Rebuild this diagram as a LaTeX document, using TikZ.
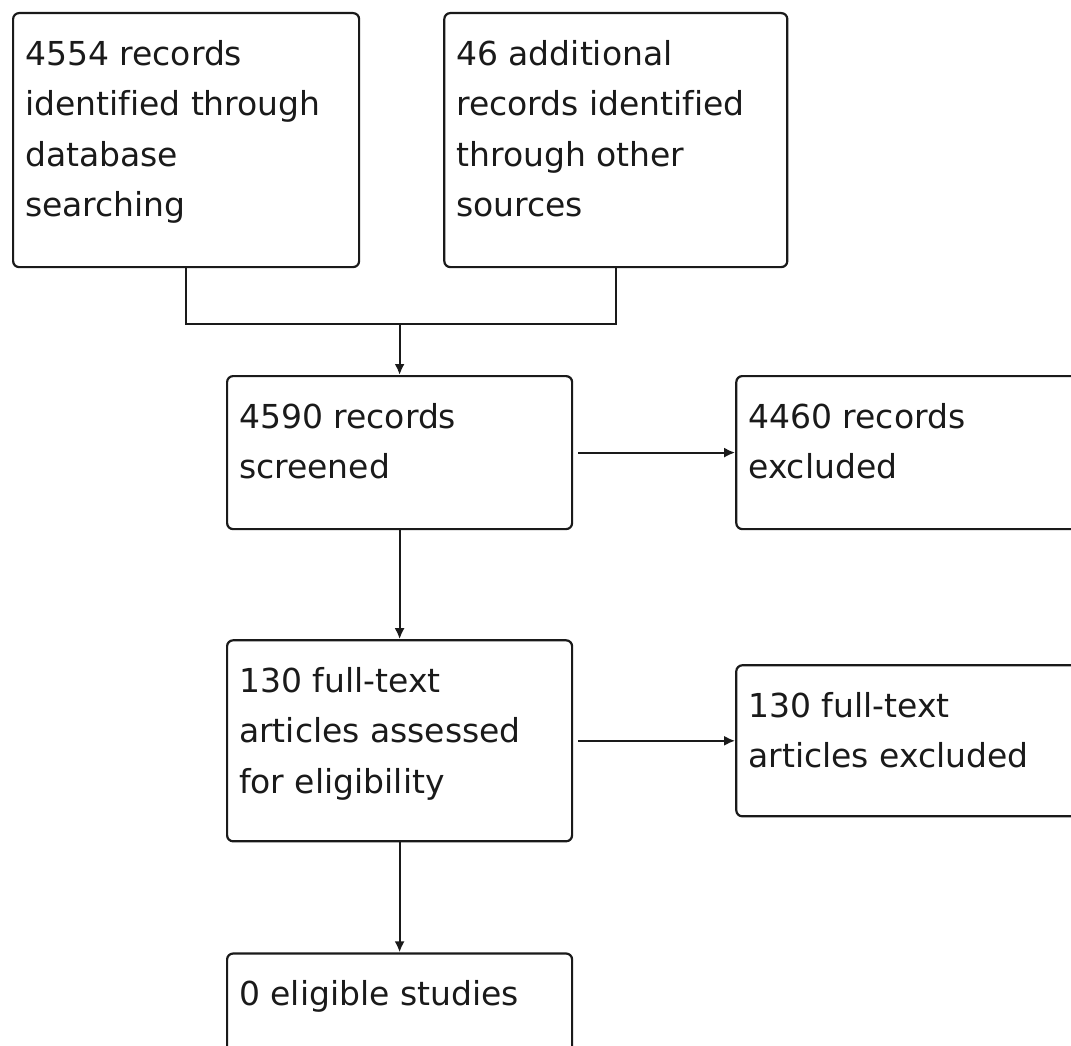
\documentclass[tikz,border=0pt]{standalone}
\usepackage{fontspec}
\setmainfont[Ligatures=NoCommon]{DejaVu Sans}
\usepackage{tikz}
\usetikzlibrary{positioning, arrows.meta}
\definecolor{ink}{HTML}{1a1a1a}
\newcommand{\boxtext}[3]{\parbox[c][#2][t]{#1}{\rule{0pt}{52pt}#3}}

\begin{document}
\begin{tikzpicture}[x=1pt, y=-1pt, stage/.style={draw=ink, line width=2.2pt, rounded corners=6pt, anchor=north west, inner xsep=12pt, inner ysep=0pt, font=\fontsize{33}{50.5}\selectfont, text=ink}, wire/.style={draw=ink, line width=2.2pt}, arr/.style={wire, -{Latex[length=11pt, width=10pt]}}]
\path[use as bounding box, clip] (0,0) rectangle (1071,1046);
\node[stage] (db) at (12,12) {\boxtext{322pt}{254pt}{4554 records\\identified through\\database\\searching}};
\node[stage, right=83pt of db] (other) {\boxtext{319pt}{254pt}{46 additional\\records identified\\through other\\sources}};
\node[stage] (screen) at (226,375) {\boxtext{321pt}{153pt}{4590 records\\screened}};
\node[stage, right=162pt of screen] (excl1) {\boxtext{396pt}{153pt}{4460 records\\excluded}};
\node[stage, below=109pt of screen] (full) {\boxtext{321pt}{201pt}{130 full-text\\articles assessed\\for eligibility}};
\node[stage, right=162pt of full] (excl2) {\boxtext{396pt}{151pt}{130 full-text\\articles excluded}};
\node[stage, below=110pt of full] (incl) {\boxtext{321pt}{150pt}{0 eligible studies}};
\coordinate[below=56pt of db.south] (drop);
\draw[wire] (db.south) |- (screen.north |- drop) -| (other.south);
\draw[arr] (screen.north |- drop) -- (screen.north);
\draw[arr, shorten <=5pt] (screen) -- (excl1);
\draw[arr] (screen) -- (full);
\draw[arr, shorten <=5pt] (full) -- (excl2);
\draw[arr] (full) -- (incl);
\end{tikzpicture}
\end{document}
